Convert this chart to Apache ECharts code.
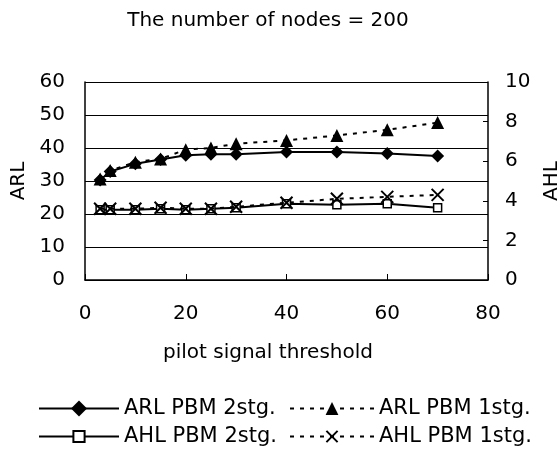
<!DOCTYPE html>
<html>
<head>
<meta charset="utf-8">
<script src="https://cdn.jsdelivr.net/npm/echarts@6/dist/echarts.min.js"></script>
<style>html,body{margin:0;padding:0;background:#fff}#c{width:558px;height:450px}</style>
</head>
<body>
<div id="c"></div>
<script>
var thresholds = [3, 5, 10, 15, 20, 25, 30, 40, 50, 60, 70];
var arl2stg = [30.3, 32.9, 35.2, 36.5, 37.8, 38.1, 38.1, 38.8, 38.8, 38.3, 37.6];
var arl1stg = [30.6, 33.2, 35.7, 36.7, 39.5, 40.0, 41.3, 42.3, 43.8, 45.5, 47.7];
var ahl2stg = [3.55, 3.55, 3.55, 3.6, 3.55, 3.6, 3.65, 3.85, 3.8, 3.85, 3.65];
var ahl1stg = [3.6, 3.6, 3.6, 3.65, 3.6, 3.6, 3.7, 3.9, 4.1, 4.2, 4.3];
var seriesNames = ['ARL PBM 2stg.', 'ARL PBM 1stg.', 'AHL PBM 2stg.', 'AHL PBM 1stg.'];
var titleText = 'The number of nodes = 200';
var xName = 'pilot signal threshold';

var FONT = 'DejaVu Sans';
var FS = 20;
function pairs(ys){ return thresholds.map(function(x,i){ return [x, ys[i]]; }); }
var crossPath = 'path://M0,0L10,10M10,0L0,10';

var chart = echarts.init(document.getElementById('c'), null, {renderer:'canvas'});
var legendBase = {
  orient: 'horizontal', padding: 0,
  textStyle: {fontFamily: FONT, fontSize: 21, color: '#000', lineHeight: 20},
  inactiveColor: '#000'
};
function lg(name, left, top, w, h){
  return Object.assign({}, legendBase, {data:[name], left:left, top:top - Math.max(h,20)/2, itemWidth:w, itemHeight:h});
}
chart.setOption({
  animation: false,
  backgroundColor: '#fff',
  title: {
    text: titleText, left: 268, top: 11, textAlign: 'center', padding: 0,
    textStyle: {fontFamily: FONT, fontSize: FS, fontWeight: 'normal', color: '#000', lineHeight: 20}
  },
  legend: [
    lg(seriesNames[0], 38, 408, 80, 20),
    lg(seriesNames[1], 289, 408, 84, 16),
    lg(seriesNames[2], 38, 436, 80, 14),
    lg(seriesNames[3], 289, 436, 84, 14)
  ],
  grid: {left: 85, top: 82, width: 403, height: 198, show: false, outerBoundsMode: 'none', containLabel: false},
  xAxis: {
    type: 'value', min: 0, max: 80, interval: 20,
    name: xName, nameLocation: 'middle', nameGap: 63,
    nameTextStyle: {fontFamily: FONT, fontSize: FS, color: '#000', padding: [0, 37, 0, 0]},
    axisLine: {show: true, onZero: false, lineStyle: {color: '#000', width: 1.5}},
    axisTick: {show: true, inside: true, length: 6, lineStyle: {color: '#000'}},
    axisLabel: {fontFamily: FONT, fontSize: FS, color: '#000', margin: 24},
    splitLine: {show: false}
  },
  yAxis: [
    {
      type: 'value', min: 0, max: 60, interval: 10, position: 'left',
      name: 'ARL', nameLocation: 'middle', nameRotate: 90, nameGap: 50,
      nameTextStyle: {fontFamily: FONT, fontSize: FS, color: '#000'},
      axisLine: {show: true, lineStyle: {color: '#000', width: 1.5}},
      axisTick: {show: true, inside: true, length: 4, lineStyle: {color: '#000'}},
      axisLabel: {fontFamily: FONT, fontSize: FS, color: '#000', margin: 20},
      splitLine: {show: true, lineStyle: {color: '#000', width: 1}}
    },
    {
      type: 'value', min: 0, max: 10, interval: 2, position: 'right',
      name: 'AHL', nameLocation: 'middle', nameRotate: 90, nameGap: 46,
      nameTextStyle: {fontFamily: FONT, fontSize: FS, color: '#000'},
      axisLine: {show: true, lineStyle: {color: '#000', width: 1.5}},
      axisTick: {show: true, inside: true, length: 5, lineStyle: {color: '#000'}},
      axisLabel: {fontFamily: FONT, fontSize: FS, color: '#000', margin: 17},
      splitLine: {show: false}
    }
  ],
  series: [
    {
      name: seriesNames[2], type: 'line', yAxisIndex: 1, data: pairs(ahl2stg),
      symbol: 'rect', symbolSize: 8,
      itemStyle: {color: '#fff', borderColor: '#000', borderWidth: 1.5},
      lineStyle: {color: '#000', width: 2, type: 'solid'}, z: 2
    },
    {
      name: seriesNames[3], type: 'line', yAxisIndex: 1, data: pairs(ahl1stg),
      symbol: crossPath, symbolSize: 12,
      itemStyle: {color: '#000', borderColor: '#000', borderWidth: 2},
      lineStyle: {color: '#000', width: 2, type: [4, 6]}, z: 3
    },
    {
      name: seriesNames[0], type: 'line', yAxisIndex: 0, data: pairs(arl2stg),
      symbol: 'diamond', symbolSize: 13,
      itemStyle: {color: '#000', borderWidth: 0},
      lineStyle: {color: '#000', width: 2, type: 'solid'}, z: 4
    },
    {
      name: seriesNames[1], type: 'line', yAxisIndex: 0, data: pairs(arl1stg),
      symbol: 'triangle', symbolSize: 13,
      itemStyle: {color: '#000', borderWidth: 0},
      lineStyle: {color: '#000', width: 2, type: [4, 6]}, z: 5
    }
  ]
});
</script>
</body>
</html>
